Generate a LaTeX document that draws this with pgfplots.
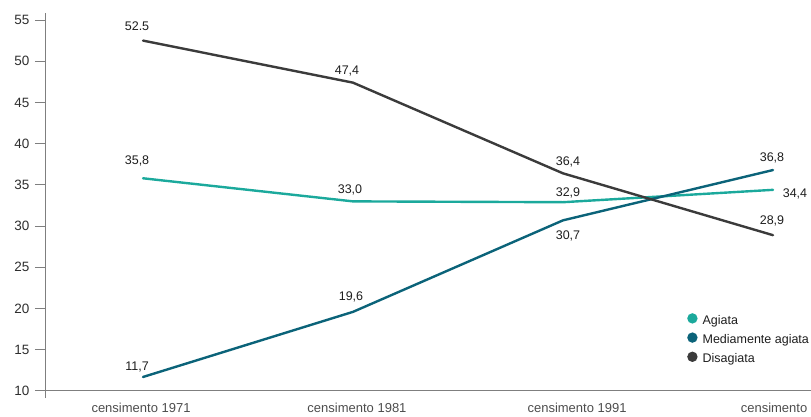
\documentclass[border=0pt]{standalone}
\usepackage{pgfplots}
\usepackage{pgfplotstable}
\usepackage{fontspec}
\setmainfont{Liberation Sans}
\pgfplotsset{compat=1.18}

\definecolor{agiata}{HTML}{1BA99C}
\definecolor{media}{HTML}{0B6379}
\definecolor{disagiata}{HTML}{3B3B3B}
\definecolor{axisgray}{HTML}{7F7F7F}
\definecolor{ticktext}{HTML}{2E2E2E}
\definecolor{cattext}{HTML}{4D4D4D}
\definecolor{labtext}{HTML}{1E1E1E}

% x: census index (0 = 1971 ... 3 = 2001), y: share, lab: printed value,
% dx/dy: offset of the value label from the point (pt)
\pgfplotstableread{
x y lab dx dy
0 35.8 35,8 -6 17
1 33.0 33,0 -3 11
2 32.9 32,9 5 9
3 34.4 34,4 22 -4
}\agiata

\pgfplotstableread{
x y lab dx dy
0 11.7 11,7 -6 10
1 19.6 19,6 -2 15
2 30.7 30,7 5 -16
3 36.8 36,8 -1 12
}\media

\pgfplotstableread{
x y lab dx dy
0 52.5 52.5 -6 14
1 47.4 47,4 -6 12
2 36.4 36,4 5 11
3 28.9 28,9 -1 14
}\disagiata

\begin{document}
\begin{tikzpicture}
\begin{axis}[
  scale only axis,
  width=765pt, height=385pt,
  xmin=-0.462, xmax=3.181,
  ymin=9.15, ymax=55.85,
  clip=false,
  axis y line*=left,
  axis x line*=bottom,
  x axis line style={draw=none},
  y axis line style={draw=axisgray, line width=1pt},
  ytick={10,15,...,55},
  xtick={-0.0095,1.019,2.067,3.005},
  xticklabels={censimento 1971,censimento 1981,censimento 1991,censimento},
  tick align=outside,
  major tick length=11pt,
  ytick style={draw=axisgray, line width=1pt},
  xtick style={draw=none},
  yticklabel style={font=\fontsize{13.5}{15}\selectfont, text=ticktext, xshift=-2pt},
  xticklabel style={font=\fontsize{13}{15}\selectfont, text=cattext, yshift=9pt},
  /pgf/number format/assume math mode=true,
  point meta=explicit symbolic,
  nodes near coords,
  visualization depends on={\thisrow{dx} \as \dx},
  visualization depends on={\thisrow{dy} \as \dy},
  nodes near coords style={anchor=center, xshift=\dx pt, yshift=\dy pt,
    font=\fontsize{12.5}{14}\selectfont, text=labtext},
  every axis plot/.append style={line width=2.4pt, line join=round, line cap=round},
  legend image code/.code={\fill[#1, draw=none] (4pt,0.3em) circle (5.2pt);},
  legend style={
    at={(rel axis cs:0.834,0.226)}, anchor=north west,
    draw=none, fill=none,
    font=\fontsize{12.5}{14}\selectfont, text=labtext,
    row sep=5pt,
    nodes={inner sep=0pt, text height=9pt, text depth=3pt},
    /tikz/every odd column/.append style={column sep=5pt},
  },
  legend cell align=left,
]
% baseline at 10
\draw[axisgray, line width=1pt] (axis cs:-0.462,10) -- (axis cs:3.181,10);

\addplot[color=agiata, mark=none] table[x=x, y=y, meta=lab] {\agiata};
\addlegendentry{Agiata}
\addplot[color=media, mark=none] table[x=x, y=y, meta=lab] {\media};
\addlegendentry{Mediamente agiata}
\addplot[color=disagiata, mark=none] table[x=x, y=y, meta=lab] {\disagiata};
\addlegendentry{Disagiata}
\end{axis}
\pgfresetboundingbox
\path[use as bounding box] (current axis.south west) ++(-46pt,-18pt) rectangle ++(811pt,416pt);
\end{tikzpicture}
\end{document}
